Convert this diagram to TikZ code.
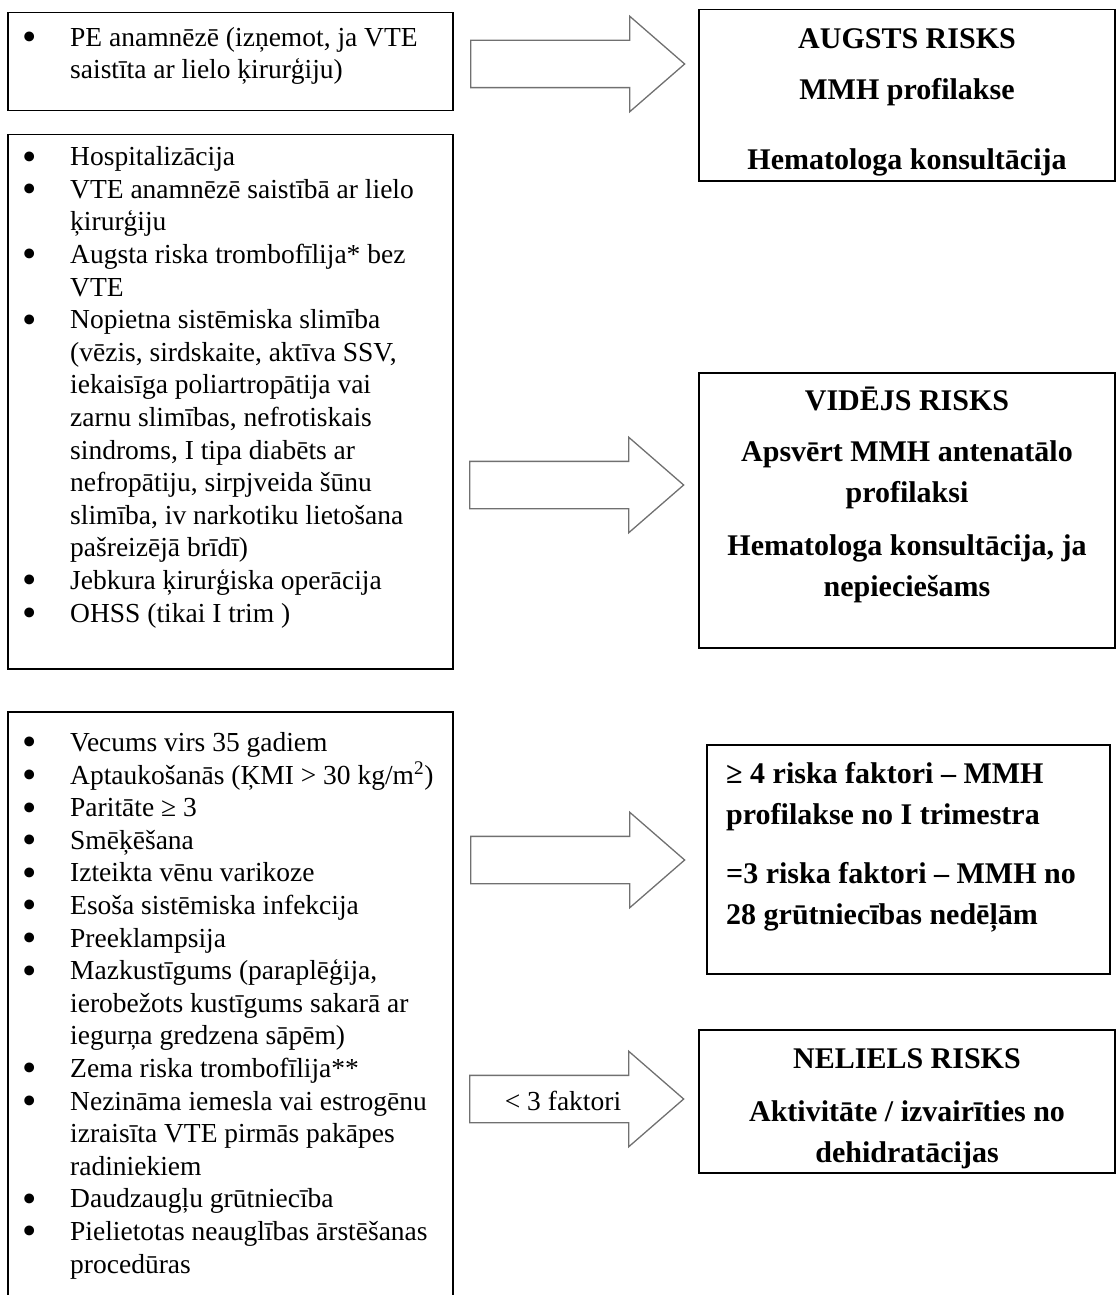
\documentclass[tikz,border=0pt]{standalone}
\usepackage{fontspec}
\setmainfont{Liberation Serif}
\usetikzlibrary{shapes.arrows}

\definecolor{arrowgray}{RGB}{112,112,112}
\newcommand{\bul}{\leavevmode\llap{\raisebox{-4.5pt}{\fontsize{41}{0}\selectfont\textbullet}\hspace{33pt}}}

\begin{document}
\begin{tikzpicture}[x=1pt, y=-1pt,
  box/.style={draw, line width=1.5pt, anchor=north west, inner sep=0pt},
  listtext/.style={anchor=base west, align=left, inner sep=0pt, font=\fontsize{27.5}{32.6}\selectfont},
  risktext/.style={anchor=base, align=center, inner sep=0pt, font=\fontsize{30}{41}\selectfont\bfseries},
  bigarrow/.style={single arrow, draw=arrowgray, line width=1.3pt, minimum height=214pt, inner xsep=0pt, inner ysep=23pt, single arrow head extend=24pt, single arrow tip angle=82, anchor=tail}]
\useasboundingbox (0,0) rectangle (1116,1295);

% left column (text nodes placed by their last baseline)
\node[box, minimum width=445pt, minimum height=98pt] (pebox) at (7,12) {};
\node[box, minimum width=445pt, minimum height=534pt] (hospbox) at (7,134) {};
\node[box, minimum width=445pt, minimum height=600pt] (agebox) at (7,711) {};

\node[listtext] (petext) at (70,79) {\bul PE anamnēzē (izņemot, ja VTE\\ saistīta ar lielo ķirurģiju)};
\node[listtext] (hosptext) at (70,622) {\bul Hospitalizācija\\
\bul VTE anamnēzē saistībā ar lielo\\ ķirurģiju\\
\bul Augsta riska trombofīlija* bez\\ VTE\\
\bul Nopietna sistēmiska slimība\\ (vēzis, sirdskaite, aktīva SSV,\\ iekaisīga poliartropātija vai\\ zarnu slimības, nefrotiskais\\ sindroms, I tipa diabēts ar\\ nefropātiju, sirpjveida šūnu\\ slimība, iv narkotiku lietošana\\ pašreizējā brīdī)\\
\bul Jebkura ķirurģiska operācija\\
\bul OHSS (tikai I trim )};
\node[listtext] (agetext) at (70,1273) {\bul Vecums virs 35 gadiem\\
\bul Aptaukošanās (ĶMI > 30 kg/m\textsuperscript{2})\\
\bul Paritāte ≥ 3\\
\bul Smēķēšana\\
\bul Izteikta vēnu varikoze\\
\bul Esoša sistēmiska infekcija\\
\bul Preeklampsija\\
\bul Mazkustīgums (paraplēģija,\\ ierobežots kustīgums sakarā ar\\ iegurņa gredzena sāpēm)\\
\bul Zema riska trombofīlija**\\
\bul Nezināma iemesla vai estrogēnu\\ izraisīta VTE pirmās pakāpes\\ radiniekiem\\
\bul Daudzaugļu grūtniecība\\
\bul Pielietotas neauglības ārstēšanas\\ procedūras};

% arrows
\node[bigarrow] (higharrow) at (470,64) {};
\node[bigarrow] (midarrow) at (469,485) {};
\node[bigarrow] (factarrow) at (470,860) {};
\node[bigarrow] (lowarrow) at (469,1099) {};
\node[font=\fontsize{27.5}{32.6}\selectfont, inner sep=0pt] (fewlabel) at (563,1101) {< 3 faktori};

% right column
\node[box, minimum width=416pt, minimum height=171pt] (highbox) at (698,9) {};
\node[box, minimum width=416pt, minimum height=275pt] (midbox) at (698,372) {};
\node[box, minimum width=403pt, minimum height=229pt] (factbox) at (706,744) {};
\node[box, minimum width=416pt, minimum height=143pt] (lowbox) at (698,1029) {};

\begin{scope}
\clip (highbox.north west) rectangle (highbox.south east);
\node[risktext] (hightext) at (907,169) {AUGSTS RISKS\\[10pt] MMH profilakse\\[29pt] Hematologa konsultācija};
\end{scope}
\node[risktext] (midtext) at (907,596) {VIDĒJS RISKS\\[10pt] Apsvērt MMH antenatālo\\ profilaksi\\[12pt] Hematologa konsultācija, ja\\ nepieciešams};
\node[risktext, anchor=base west, align=left] (facttext) at (726,924) {≥ 4 riska faktori – MMH\\ profilakse no I trimestra\\[18pt] =3 riska faktori – MMH no\\ 28 grūtniecības nedēļām};
\begin{scope}
\clip (lowbox.north west) rectangle (lowbox.south east);
\node[risktext] (lowtext) at (907,1162) {NELIELS RISKS\\[12pt] Aktivitāte / izvairīties no\\ dehidratācijas};
\end{scope}
\end{tikzpicture}
\end{document}
